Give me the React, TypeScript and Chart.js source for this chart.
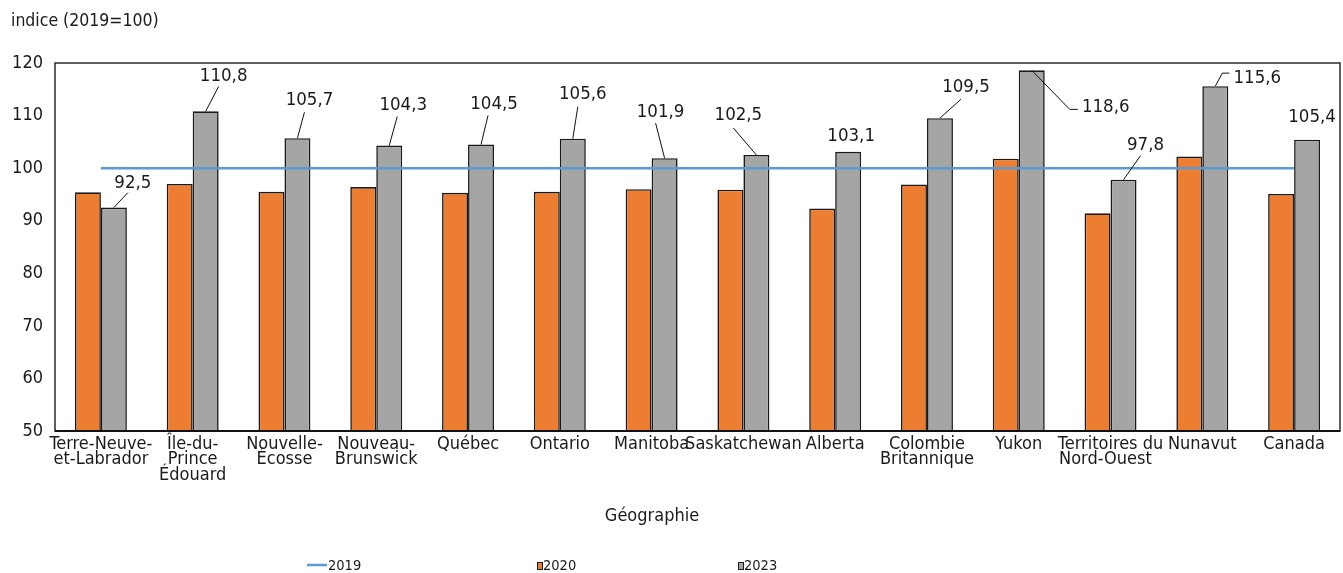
import React, { useEffect, useRef } from 'react';
import { Chart, registerables } from 'chart.js';

Chart.register(...registerables);

// ---------- data ----------
const CATEGORIES: string[][] = [
  ['Terre-Neuve-', 'et-Labrador'],
  ['Île-du-', 'Prince', 'Édouard'],
  ['Nouvelle-', 'Écosse'],
  ['Nouveau-', 'Brunswick'],
  ['Québec'],
  ['Ontario'],
  ['Manitoba'],
  ['Saskatchewan'],
  ['Alberta'],
  ['Colombie', 'Britannique'],
  ['Yukon'],
  ['Territoires du', 'Nord-Ouest  '],
  ['Nunavut'],
  ['Canada'],
];

const SERIES_LABELS = ['2019', '2020', '2023'];
const VALUES_2019 = [100, 100, 100, 100, 100, 100, 100, 100, 100, 100, 100, 100, 100, 100];
const VALUES_2020 = [95.4, 97.0, 95.5, 96.4, 95.3, 95.5, 96.0, 95.9, 92.3, 96.9, 101.8, 91.4, 102.2, 95.1];
const VALUES_2023 = [92.5, 110.8, 105.7, 104.3, 104.5, 105.6, 101.9, 102.5, 103.1, 109.5, 118.6, 97.8, 115.6, 105.4];

const Y_MIN = 50;
const Y_MAX = 120;
const Y_STEP = 10;

const Y_TITLE = 'indice (2019=100)';
const X_TITLE = 'Géographie';

// ---------- styles ----------
const FONT = '"DejaVu Sans Condensed", "Liberation Sans", sans-serif';
const TEXT_COLOR = '#1a1a1a';
const BLUE = '#5B9BD5';
const ORANGE = '#ED7D31';
const GRAY = '#A5A5A5';
const BAR_BORDER = '#1a1a1a';

// label placement for the 2023 data labels (offset of the label centre from the bar top,
// and where its leader line starts relative to the label centre)
type LabelLayout = { dx: number; dy: number; leader: null | { x: number; y: number; stub?: number } };
const LABEL_LAYOUT: LabelLayout[] = [
  { dx: 19, dy: -24, leader: { x: -5, y: 9 } },
  { dx: 18, dy: -35, leader: { x: -5, y: 10 } },
  { dx: 12, dy: -38, leader: { x: -5, y: 12 } },
  { dx: 14, dy: -40, leader: { x: -6, y: 11 } },
  { dx: 13, dy: -40, leader: { x: -6, y: 11 } },
  { dx: 10, dy: -45, leader: { x: -5, y: 13 } },
  { dx: -4, dy: -46, leader: { x: -5, y: 11 } },
  { dx: -18, dy: -40, leader: { x: -5, y: 13 } },
  { dx: 3, dy: -16, leader: null },
  { dx: 26, dy: -31, leader: { x: -5, y: 12 } },
  { dx: 74, dy: 37, leader: { x: -28, y: 2, stub: 8 } },
  { dx: 22, dy: -35, leader: { x: -5, y: 11 } },
  { dx: 42, dy: -8, leader: { x: -28, y: -5, stub: 7 } },
  { dx: 5, dy: -23, leader: null },
];

const LEGEND_X = [307, 537, 738];
const LEGEND_Y = 565;

const fmt = (v: number) => v.toFixed(1).replace('.', ',');

const decorPlugin = {
  id: 'decor',
  afterDatasetsDraw(chart: any) {
    const ctx: CanvasRenderingContext2D = chart.ctx;
    const area = chart.chartArea;
    ctx.save();
    // plot border
    ctx.strokeStyle = '#2b2b2b';
    ctx.lineWidth = 1.5;
    ctx.strokeRect(area.left, area.top, area.right - area.left, area.bottom - area.top);
    ctx.lineWidth = 2;
    ctx.strokeStyle = '#111';
    ctx.beginPath();
    ctx.moveTo(area.left, area.bottom);
    ctx.lineTo(area.right, area.bottom);
    ctx.stroke();

    // data labels for 2023 bars
    const meta = chart.getDatasetMeta(2);
    ctx.font = `18.5px ${FONT}`;
    ctx.fillStyle = TEXT_COLOR;
    ctx.textAlign = 'center';
    ctx.textBaseline = 'middle';
    meta.data.forEach((bar: any, i: number) => {
      const lay = LABEL_LAYOUT[i];
      const lx = bar.x + lay.dx;
      const ly = bar.y + lay.dy;
      ctx.fillText(fmt(VALUES_2023[i]), lx, ly);
      if (lay.leader) {
        ctx.strokeStyle = '#111';
        ctx.lineWidth = 1;
        ctx.beginPath();
        const sx = lx + lay.leader.x;
        const sy = ly + lay.leader.y;
        ctx.moveTo(sx, sy);
        if (lay.leader.stub) {
          ctx.lineTo(sx - lay.leader.stub, sy);
        }
        ctx.lineTo(bar.x, bar.y);
        ctx.stroke();
      }
    });

    // titles
    ctx.fillStyle = TEXT_COLOR;
    ctx.textAlign = 'left';
    ctx.font = `17.5px ${FONT}`;
    ctx.fillText(Y_TITLE, 11, 21);
    ctx.textAlign = 'center';
    ctx.font = `18px ${FONT}`;
    ctx.fillText(X_TITLE, 652, 516);

    // legend
    ctx.font = `14.5px ${FONT}`;
    ctx.textAlign = 'left';
    const ds = chart.data.datasets;
    ds.forEach((d: any, i: number) => {
      const x = LEGEND_X[i];
      if (d.type === 'line') {
        ctx.strokeStyle = d.borderColor;
        ctx.lineWidth = 2.5;
        ctx.beginPath();
        ctx.moveTo(x, LEGEND_Y);
        ctx.lineTo(x + 20, LEGEND_Y);
        ctx.stroke();
        ctx.fillStyle = TEXT_COLOR;
        ctx.fillText(d.label, x + 21, LEGEND_Y + 1);
      } else {
        ctx.fillStyle = d.backgroundColor;
        ctx.fillRect(x, LEGEND_Y - 3, 5, 7);
        ctx.strokeStyle = BAR_BORDER;
        ctx.lineWidth = 1;
        ctx.strokeRect(x + 0.5, LEGEND_Y - 2.5, 5, 7);
        ctx.fillStyle = TEXT_COLOR;
        ctx.fillText(d.label, x + 6, LEGEND_Y + 1);
      }
    });
    ctx.restore();
  },
};

export default function App() {
  const ref = useRef<HTMLCanvasElement | null>(null);

  useEffect(() => {
    if (!ref.current) return;
    const chart = new Chart(ref.current, {
      type: 'bar',
      data: {
        labels: CATEGORIES,
        datasets: [
          {
            type: 'line',
            label: SERIES_LABELS[0],
            data: VALUES_2019,
            borderColor: BLUE,
            backgroundColor: BLUE,
            borderWidth: 2.5,
            pointRadius: 0,
            order: 0,
          } as any,
          {
            type: 'bar',
            label: SERIES_LABELS[1],
            data: VALUES_2020,
            backgroundColor: ORANGE,
            borderColor: BAR_BORDER,
            borderWidth: 1.6,
            order: 1,
          },
          {
            type: 'bar',
            label: SERIES_LABELS[2],
            data: VALUES_2023,
            backgroundColor: GRAY,
            borderColor: BAR_BORDER,
            borderWidth: 1.6,
            order: 1,
          },
        ],
      },
      options: {
        responsive: false,
        animation: false,
        events: [],
        datasets: {
          bar: { barPercentage: 1, categoryPercentage: 0.566 },
        },
        layout: { padding: { top: 63, right: 3, left: 0, bottom: 0 } },
        plugins: {
          legend: { display: false },
          title: { display: false },
          tooltip: { enabled: false },
        },
        scales: {
          x: {
            grid: { display: false },
            border: { display: false },
            ticks: {
              color: TEXT_COLOR,
              font: { family: FONT, size: 18, lineHeight: 0.87 },
              padding: -3,
              maxRotation: 0,
              autoSkip: false,
            },
            afterFit: (s: any) => {
              s.height = 142;
            },
          },
          y: {
            min: Y_MIN,
            max: Y_MAX,
            grid: { display: false },
            border: { display: false },
            ticks: {
              stepSize: Y_STEP,
              color: TEXT_COLOR,
              font: { family: FONT, size: 18 },
              padding: 4,
            },
            afterFit: (s: any) => {
              s.width = 55;
            },
          },
        },
      },
      plugins: [decorPlugin],
    });
    return () => chart.destroy();
  }, []);

  return (
    <div style={{ position: 'absolute', left: 0, top: 0, width: 1343, height: 573, background: '#fff' }}>
      <canvas ref={ref} width={1343} height={573} style={{ display: 'block' }} />
    </div>
  );
}
